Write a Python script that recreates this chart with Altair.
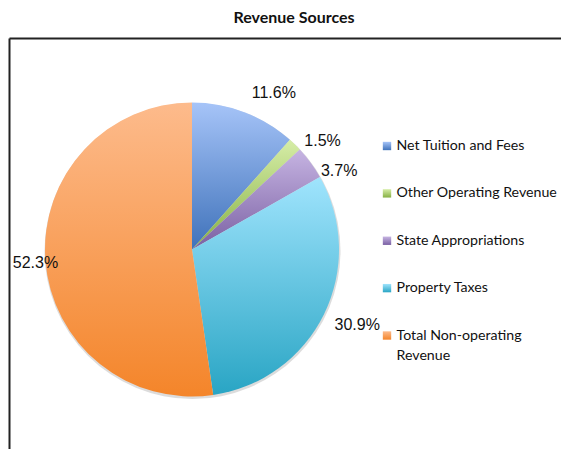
import altair as alt
import pandas as pd

title = "Revenue Sources"
categories = ["Net Tuition and Fees", "Other Operating Revenue", "State Appropriations",
              "Property Taxes", "Total Non-operating Revenue"]
legend_labels = ["Net Tuition and Fees", "Other Operating Revenue", "State Appropriations",
                 "Property Taxes", "Total Non-operating\nRevenue"]
values = [11.6, 1.5, 3.7, 30.9, 52.3]

# style: (top colour, bottom colour) of each slice's gradient
gradients = {
    "Net Tuition and Fees": ("#a6c4f8", "#3f72ba"),
    "Other Operating Revenue": ("#d6eda7", "#86b044"),
    "State Appropriations": ("#c6b4e2", "#7a60a3"),
    "Property Taxes": ("#a0e4fd", "#29a5c4"),
    "Total Non-operating Revenue": ("#fdbb8c", "#f4852a"),
}
# label nudges (dx, dy) from the mid-angle anchor
nudges = {
    "Net Tuition and Fees": (23, -2),
    "Other Operating Revenue": (15, 9),
    "State Appropriations": (14, 19),
    "Property Taxes": (17, 3),
    "Total Non-operating Revenue": (8, 2),
}

CX, CY, R = 184, 241.5, 147
W, H = 553, 441

df = pd.DataFrame({
    "category": categories,
    "legend": legend_labels,
    "value": values,
    "order": list(range(len(categories))),
})

base = alt.Chart(df).transform_window(
    cum="sum(value)", sort=[alt.SortField("order")], frame=[None, 0]
).transform_joinaggregate(total="sum(value)").transform_calculate(
    start="2*PI*(datum.cum - datum.value)/datum.total",
    end="2*PI*datum.cum/datum.total",
    mid="PI*(2*datum.cum - datum.value)/datum.total",
    label="format(datum.value, '.1f') + '%'",
)

def grad(top, bottom):
    return alt.LinearGradient(
        gradient="linear",
        stops=[alt.GradientStop(color=top, offset=0), alt.GradientStop(color=bottom, offset=1)],
        x1=0, x2=0, y1=0, y2=1,
    )

legend_y = alt.Y("category:N", scale=alt.Scale(type="point", domain=categories,
                                                 range=[138, 327.5], padding=0), axis=None)

layers = []

# border (top and left edges of the chart box)
frame_df = pd.DataFrame({"k": [0]})
layers.append(alt.Chart(frame_df).mark_rule(color="#222222", strokeWidth=2).encode(
    x=alt.value(1.5), y=alt.value(30.5), x2=alt.value(W + 5), y2=alt.value(30.5)))
layers.append(alt.Chart(frame_df).mark_rule(color="#222222", strokeWidth=2).encode(
    x=alt.value(1.5), y=alt.value(30.5), x2=alt.value(1.5), y2=alt.value(H + 5)))

# title
layers.append(alt.Chart(pd.DataFrame({"t": [title]})).mark_text(
    font="Lato", fontSize=16, fontWeight="bold", color="#111111",
    align="center", baseline="middle").encode(
    text="t:N", x=alt.value(286), y=alt.value(9.5)))

# soft shadow
layers.append(alt.Chart(frame_df).mark_arc(
    theta=0, theta2=6.2832, radius=R + 1, color="#9a9a9a", opacity=0.35).encode(
    x=alt.value(CX + 0.5), y=alt.value(CY + 1.5)))

for cat in categories:
    top, bottom = gradients[cat]
    sub = base.transform_filter(alt.datum.category == cat)
    layers.append(sub.mark_arc(radius=R, color=grad(top, bottom)).encode(
        theta=alt.Theta("start:Q", scale=None),
        theta2="end:Q",
        x=alt.value(CX), y=alt.value(CY),
    ))
    dx, dy = nudges[cat]
    layers.append(sub.mark_text(
        font="Liberation Sans", fontSize=16, color="#111111",
        align="center", baseline="middle", radius=165, dx=dx, dy=dy).encode(
        theta=alt.Theta("mid:Q", scale=None),
        text="label:N",
        x=alt.value(CX), y=alt.value(CY),
    ))
    layers.append(sub.mark_square(size=70, color=grad(top, bottom), opacity=1).encode(
        x=alt.value(379), y=legend_y))
    layers.append(sub.mark_text(
        font="Lato", fontSize=14.2, color="#111111", align="left",
        baseline="middle", lineBreak="\n", lineHeight=20).encode(
        x=alt.value(388.5), y=legend_y, text="legend:N"))

chart = alt.layer(*layers).properties(
    width=W, height=H, padding=0,
    autosize=alt.AutoSizeParams(type="none"),
    background="white",
).configure_view(stroke=None)

chart.save("out.html", embed_options={"renderer": "svg", "actions": False})
